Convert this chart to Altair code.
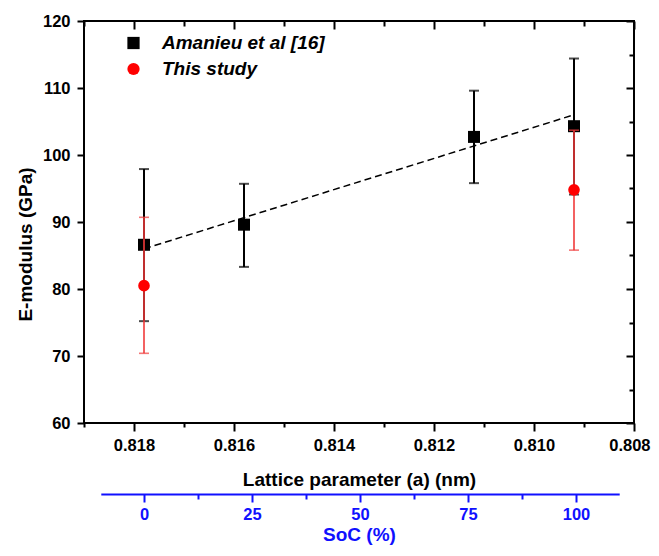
import altair as alt
import pandas as pd

# ---- data ----
amanieu_lattice = [0.8178, 0.8158, 0.8112, 0.8092]
amanieu_E = [86.6, 89.6, 102.7, 104.3]
amanieu_lo = [75.2, 83.3, 95.8, 94.1]
amanieu_hi = [97.9, 95.7, 109.6, 114.4]

study_lattice = [0.8178, 0.8092]
study_E = [80.5, 94.8]
study_lo = [70.4, 85.8]
study_hi = [90.7, 103.7]

fit_lattice = [0.8178, 0.8092]
fit_E = [86.0, 106.0]

series_names = ["Amanieu et al [16]", "This study"]
lattice_ticks = [0.808, 0.809, 0.810, 0.811, 0.812, 0.813, 0.814, 0.815, 0.816, 0.817, 0.818, 0.819]
e_ticks = [60, 65, 70, 75, 80, 85, 90, 95, 100, 105, 110, 115, 120]
soc_ticks = [0, 12.5, 25, 37.5, 50, 62.5, 75, 87.5, 100]

df_a = pd.DataFrame({"lattice": amanieu_lattice, "E": amanieu_E, "lo": amanieu_lo,
                     "hi": amanieu_hi, "series": series_names[0]})
df_s = pd.DataFrame({"lattice": study_lattice, "E": study_E, "lo": study_lo,
                     "hi": study_hi, "series": series_names[1]})
df_fit = pd.DataFrame({"lattice": fit_lattice, "E": fit_E})
df_soc = pd.DataFrame({"soc": soc_ticks})
df_eticks = pd.DataFrame({"E": e_ticks})
df_lticks = pd.DataFrame({"lattice": lattice_ticks})

FONT = "Liberation Sans"
BLUE = "#1010ff"
RED = "#ff0000"
RED_BAR = "#f03a3a"

x_scale = alt.Scale(domain=[0.808, 0.819], reverse=True, nice=False, zero=False)
y_scale = alt.Scale(domain=[60, 120], nice=False, zero=False)

lat_major = "abs(round(datum.value*1000)) % 2 == 0"
x_axis = alt.Axis(
    values=lattice_ticks,
    labelExpr=f"{lat_major} ? format(datum.value, '.3f') : ''",
    tickSize={"condition": {"test": lat_major, "value": 8}, "value": 4},
    tickWidth=2, tickColor="black", domain=False, grid=False,
    labelFont=FONT, labelFontSize=16.5, labelFontWeight="bold", labelColor="black",
    labelPadding=6.5, labelFlush=True, labelFlushOffset=16, labelOverlap=False,
    title="Lattice parameter (a) (nm)", titleFont=FONT, titleFontSize=19,
    titleFontWeight="bold", titleColor="black", titlePadding=16,
)
y_axis = alt.Axis(
    values=e_ticks,
    labelExpr="datum.value % 10 == 0 ? datum.label : ''",
    tickSize={"condition": {"test": "datum.value % 10 == 0", "value": 7}, "value": 4},
    tickWidth=2, tickColor="black", domain=False, grid=False,
    labelFont=FONT, labelFontSize=16.5, labelFontWeight="bold", labelColor="black",
    labelPadding=7, labelOverlap=False, labelFlush=False,
    title="E-modulus (GPa)", titleFont=FONT, titleFontSize=19, titleFontWeight="bold",
    titleColor="black", titleX=-59, titleY=223, titleAngle=270,
    titleAlign="center", titleBaseline="middle",
)

color_scale = alt.Scale(domain=series_names, range=["black", RED])
shape_scale = alt.Scale(domain=series_names, range=["square", "circle"])
legend = alt.Legend(
    title=None, orient="none", legendX=40, legendY=12.5, padding=0,
    labelFont=FONT, labelFontSize=19, labelFontWeight="bold", labelFontStyle="italic",
    labelColor="black", labelOffset=19, labelLimit=400, rowPadding=6, symbolSize=150,
    symbolStrokeWidth=0,
)

fit_line = alt.Chart(df_fit).mark_line(
    color="black", strokeWidth=1.5, strokeDash=[7, 4]
).encode(
    x=alt.X("lattice:Q", scale=x_scale, axis=x_axis),
    y=alt.Y("E:Q", scale=y_scale, axis=y_axis),
)

a_bars = alt.Chart(df_a).mark_rule(color="black", strokeWidth=2).encode(
    x=alt.X("lattice:Q", scale=x_scale), y=alt.Y("lo:Q", scale=y_scale), y2="hi:Q")
a_cap_hi = alt.Chart(df_a).mark_tick(color="black", orient="horizontal", size=10, thickness=2).encode(
    x=alt.X("lattice:Q", scale=x_scale), y=alt.Y("hi:Q", scale=y_scale))
a_cap_lo = alt.Chart(df_a).mark_tick(color="black", orient="horizontal", size=10, thickness=2).encode(
    x=alt.X("lattice:Q", scale=x_scale), y=alt.Y("lo:Q", scale=y_scale))
a_pts = alt.Chart(df_a).mark_point(filled=True, size=144, opacity=1).encode(
    x=alt.X("lattice:Q", scale=x_scale), y=alt.Y("E:Q", scale=y_scale),
    color=alt.Color("series:N", scale=color_scale, legend=legend),
    shape=alt.Shape("series:N", scale=shape_scale, legend=legend),
)

s_bars = alt.Chart(df_s).mark_rule(color=RED_BAR, strokeWidth=1.6).encode(
    x=alt.X("lattice:Q", scale=x_scale), y=alt.Y("lo:Q", scale=y_scale), y2="hi:Q")
s_cap_hi = alt.Chart(df_s).mark_tick(color=RED_BAR, orient="horizontal", size=10, thickness=1.6).encode(
    x=alt.X("lattice:Q", scale=x_scale), y=alt.Y("hi:Q", scale=y_scale))
s_cap_lo = alt.Chart(df_s).mark_tick(color=RED_BAR, orient="horizontal", size=10, thickness=1.6).encode(
    x=alt.X("lattice:Q", scale=x_scale), y=alt.Y("lo:Q", scale=y_scale))
s_pts = alt.Chart(df_s).mark_point(filled=True, size=135, opacity=1).encode(
    x=alt.X("lattice:Q", scale=x_scale), y=alt.Y("E:Q", scale=y_scale),
    color=alt.Color("series:N", scale=color_scale, legend=legend),
    shape=alt.Shape("series:N", scale=shape_scale, legend=legend),
)

data_layer = alt.layer(fit_line, a_bars, a_cap_hi, a_cap_lo, a_pts,
                       s_bars, s_cap_hi, s_cap_lo, s_pts)

# mirrored inward ticks on top and right
top_axis = alt.Axis(
    orient="top", offset=-8, values=lattice_ticks, labels=False, title=None,
    domain=False, grid=False, tickSize=8, tickWidth=2, tickColor="black",
    tickDash={"condition": {"test": f"!({lat_major})", "value": [0, 3, 5, 10]}, "value": []},
)
top_layer = alt.Chart(df_lticks).mark_point(opacity=0).encode(
    x=alt.X("lattice:Q", scale=x_scale, axis=top_axis))

right_axis = alt.Axis(
    orient="right", offset=-8, values=e_ticks, labels=False, title=None,
    domain=False, grid=False, tickSize=8, tickWidth=2, tickColor="black",
    tickDash={"condition": {"test": "datum.value % 10 != 0", "value": [0, 3, 5, 10]}, "value": []},
)
right_layer = alt.Chart(df_eticks).mark_point(opacity=0).encode(
    y=alt.Y("E:Q", scale=y_scale, axis=right_axis))

# secondary SoC axis
soc_axis = alt.Axis(
    orient="bottom", offset=71, values=soc_ticks,
    labelExpr="datum.value % 25 == 0 ? datum.label : ''",
    tickSize={"condition": {"test": "datum.value % 25 == 0", "value": 8}, "value": 5},
    tickWidth=2, tickColor=BLUE, domain=True, domainColor=BLUE, domainWidth=2,
    domainDash=[0, 16.8, 518.4, 60], grid=False,
    labelFont=FONT, labelFontSize=16.5, labelFontWeight="bold", labelColor=BLUE,
    labelPadding=4.5, labelFlush=False, labelOverlap=False,
    title="SoC (%)", titleFont=FONT, titleFontSize=19, titleFontWeight="bold",
    titleColor=BLUE, titlePadding=2,
)
soc_layer = alt.Chart(df_soc).mark_point(opacity=0).encode(
    x=alt.X("soc:Q", scale=alt.Scale(domain=[-13.89, 113.43], nice=False, zero=False), axis=soc_axis))

chart = alt.layer(data_layer, top_layer, right_layer, soc_layer).resolve_scale(
    x="independent", y="independent"
).properties(
    width=550, height=402,
    autosize=alt.AutoSizeParams(type="none"),
    padding={"left": 76, "top": 13, "right": 17, "bottom": 125},
).configure(font=FONT).configure_view(stroke="black", strokeWidth=2)

chart.save("out.html", embed_options={"renderer": "svg", "actions": False})
